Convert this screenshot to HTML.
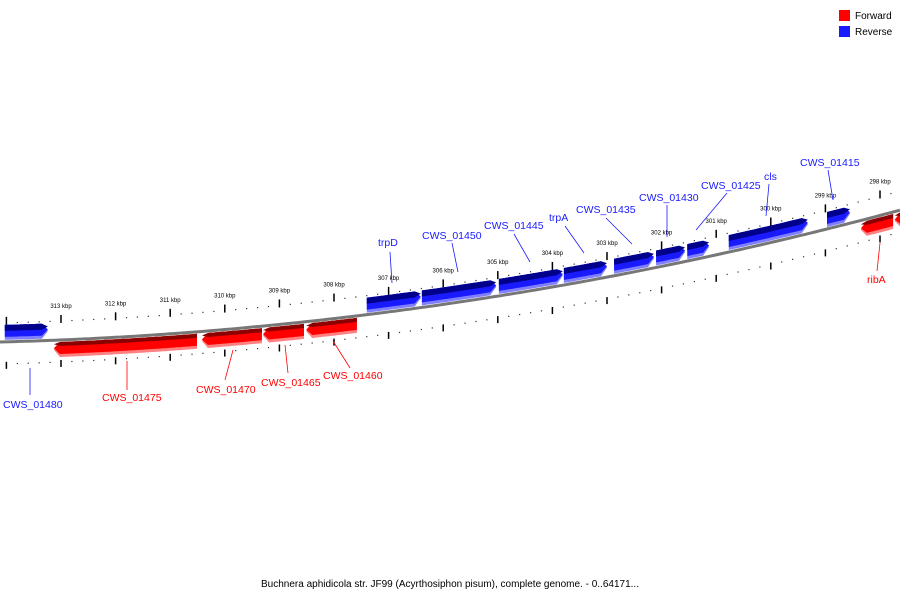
<!DOCTYPE html>
<html><head><meta charset="utf-8"><style>
html,body{margin:0;padding:0;background:#fff;width:900px;height:600px;overflow:hidden}
svg{display:block;font-family:"Liberation Sans","DejaVu Sans",sans-serif}
</style></head><body>
<svg id="c" width="900" height="600" viewBox="0 0 900 600">
<g id="scale"></g>
<path id="bb" fill="none" stroke="#777" stroke-width="3"/>
<g id="genes"></g>
<g id="labels"></g>
<g>
<rect x="839" y="10" width="11" height="11" fill="#ff0000"/>
<text x="855" y="19" font-size="10" fill="#000">Forward</text>
<rect x="839" y="26" width="11" height="11" fill="#1a1aff"/>
<text x="855" y="35" font-size="10" fill="#000">Reverse</text>
</g>
<text x="450" y="587" font-size="10" text-anchor="middle" fill="#000">Buchnera aphidicola str. JF99 (Acyrthosiphon pisum), complete genome. - 0..64171...</text>
</svg>
<script>
const tickKbp=[313,312,311,310,309,308,307,306,305,304,303,302,301,300,299,298];
const geneNames=["CWS_01480","trpD","CWS_01450","CWS_01445","trpA","CWS_01435","CWS_01430","CWS_01425","cls","CWS_01415","CWS_01475","CWS_01470","CWS_01465","CWS_01460","ribA",""];
const geneStart=[314.03,307.40,306.39,304.98,303.79,302.87,302.10,301.53,300.77,298.97,313.13,310.42,309.30,308.51,298.35,297.73];
const geneEnd=[313.24,306.41,305.03,303.81,303.00,302.14,301.57,301.13,299.32,298.55,310.51,309.32,308.55,307.58,297.76,297.50];
const geneStrand=["R","R","R","R","R","R","R","R","R","R","F","F","F","F","F","F"];
const labelPos=[[3,408],[378,246],[422,239],[484,229],[549,221],[576,213],[639,201],[701,189],[764,180],[800,166],[102,401],[196,393],[261,386],[323,379],[867,283],[0,0]];
const labelLine=[[30,368,30,395],[390,252,392,283],[452,243,458,272],[514,234,530,262],[565,226,584,253],[606,218,632,244],[667,205,667,237],[727,193,696,230],[769,184,766,216],[828,170,833,200],[127,361,127,390],[233,350,225,380],[285,345,288,373],[333,341,350,368],[880,243,877,271],[0,0,0,0]];

const NS="http://www.w3.org/2000/svg";
function xOf(k){return 61+(313-k)*54.6;}
function yOf(x){return 342-0.025*x-0.000135*x*x;}
function mk(t,a,p){const e=document.createElementNS(NS,t);for(const k in a)e.setAttribute(k,a[k]);p.appendChild(e);return e;}

let d="";for(let x=0;x<=900;x+=5)d+=(x?"L":"M")+x+","+yOf(x).toFixed(1);
document.getElementById("bb").setAttribute("d",d);

const sc=document.getElementById("scale");
for(let k=314.2;k>=297.4;k-=0.2){
  const kk=Math.round(k*10)/10, x=xOf(kk);
  if(x<0||x>900)continue;
  const major=Math.abs(kk-Math.round(kk))<0.01;
  [[-19,-25,-17],[22,20,27]].forEach(o=>{
    const y=yOf(x);
    if(major){const l=mk("line",{x1:x,y1:y+o[1],x2:x,y2:y+o[2],stroke:"#000","stroke-width":1.5},sc);
      
      }
    else{const r=mk("rect",{x:x-0.6,y:y+o[0]-0.6,width:1.2,height:1.2,fill:"#333"},sc);
      
      }
  });
}
tickKbp.forEach(k=>{const x=xOf(k);
  const t=mk("text",{x:x,y:yOf(x)-32,"font-size":6,"text-anchor":"middle",fill:"#000"},sc);
  t.textContent=k+" kbp";
  
  
});

const gg=document.getElementById("genes");
function band(x1,x2,a,b,fwd){
  const h=6,pts=[];
  const s=fwd?Math.min(x1+h,x2):x1, e=fwd?x2:Math.max(x2-h,x1);
  for(let x=s;x<=e;x+=2)pts.push([x,yOf(x)+a]);
  pts.push([e,yOf(e)+a]);
  if(!fwd){pts.push([x2,yOf(x2)+(a+b)/2]);}
  for(let x=e;x>=s;x-=2)pts.push([x,yOf(x)+b]);
  pts.push([s,yOf(s)+b]);
  if(fwd){pts.push([x1,yOf(x1)+(a+b)/2]);}
  return pts.map(p=>p[0].toFixed(1)+","+p[1].toFixed(1)).join(" ");
}
geneStart.forEach((st,i)=>{
  const xa=xOf(st),xb=xOf(geneEnd[i]);const x1=Math.min(xa,xb),x2=Math.max(xa,xb);
  const fwd=geneStrand[i]==="F";
  const g=mk("g",{},gg);
  
  
  let layers=fwd?[[2,17,"#ff8080"],[2,14,"#ff0000"],[2,6,"#8b0000"]]:[[-17,-2,"#8080ff"],[-17,-5,"#1a1aff"],[-17,-11,"#00008b"]];
  layers.forEach(L=>mk("polygon",{points:band(x1,x2,L[0],L[1],fwd),fill:L[2]},g));
});

const lg=document.getElementById("labels");
geneNames.forEach((n,i)=>{
  if(!n)return;
  const col=geneStrand[i]==="F"?"#ff0000":"#1a1aff";
  const L=labelLine[i];
  const ln=mk("line",{x1:L[0],y1:L[1],x2:L[2],y2:L[3],stroke:col,"stroke-width":0.8},lg);
  
  
  const t=mk("text",{x:labelPos[i][0],y:labelPos[i][1],"font-size":10.5,fill:col},lg);
  t.textContent=n;
  
  
});
</script>
</body></html>
